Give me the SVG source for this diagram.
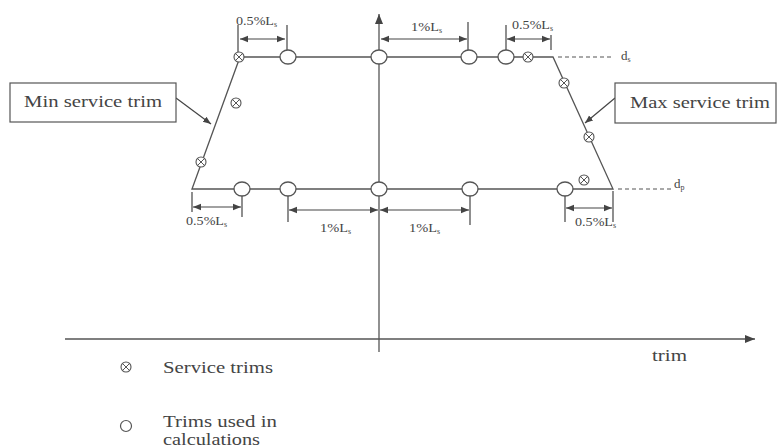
<svg xmlns="http://www.w3.org/2000/svg" width="779" height="447" viewBox="0 0 779 447">
<style>
.ln{stroke:#555;stroke-width:1.3;fill:none}
.dash{stroke:#555;stroke-width:1.2;fill:none;stroke-dasharray:4 3}
.dim{stroke:#444;stroke-width:1.2;fill:none}
.ell{fill:#fff;stroke:#555;stroke-width:1.3}
.t{font-family:"Liberation Serif",serif;fill:#444}
.s{font-size:13px}
.sub{font-size:8px}
.lbl{font-size:17px}
.lg{font-size:16px}
.box{fill:#fff;stroke:#555;stroke-width:1.2}
</style>
<defs>
<marker id="ah" viewBox="0 0 10 10" refX="10" refY="5" markerWidth="8" markerHeight="8" markerUnits="userSpaceOnUse" orient="auto-start-reverse"><path d="M0,1 L10,5 L0,9 z" fill="#444"/></marker>
<marker id="ax" viewBox="0 0 10 10" refX="10" refY="5" markerWidth="10" markerHeight="10" markerUnits="userSpaceOnUse" orient="auto"><path d="M0,1 L10,5 L0,9 z" fill="#444"/></marker>
<g id="xm"><circle r="5" fill="#fff" stroke="#555" stroke-width="1.1"/><path d="M-3.5,-3.5 L3.5,3.5 M-3.5,3.5 L3.5,-3.5" stroke="#555" stroke-width="1"/></g>
<ellipse id="oc" rx="8" ry="7" class="ell"/>
</defs>
<rect width="779" height="447" fill="#fff"/>
<g id="connectors">
<line class="ln" x1="65" y1="339" x2="755" y2="339" marker-end="url(#ax)"/>
<line class="ln" x1="379" y1="352" x2="379" y2="14" marker-end="url(#ax)"/>
<path class="ln" d="M192,189 L240,57 L553,57 L613,189 Z"/>
<line class="dash" x1="558" y1="57" x2="612" y2="57"/>
<line class="dash" x1="618" y1="189" x2="672" y2="189"/>
<line class="dim" x1="238" y1="25" x2="238" y2="57"/>
<line class="dim" x1="287" y1="25" x2="287" y2="50"/>
<line class="dim" x1="240" y1="39" x2="285" y2="39" marker-start="url(#ah)" marker-end="url(#ah)"/>
<line class="dim" x1="468" y1="22" x2="468" y2="50"/>
<line class="dim" x1="381" y1="39" x2="467" y2="39" marker-start="url(#ah)" marker-end="url(#ah)"/>
<line class="dim" x1="506" y1="25" x2="506" y2="50"/>
<line class="dim" x1="551" y1="35" x2="551" y2="50"/>
<line class="dim" x1="507" y1="39" x2="550" y2="39" marker-start="url(#ah)" marker-end="url(#ah)"/>
<line class="dim" x1="192" y1="192" x2="192" y2="212"/>
<line class="dim" x1="242" y1="195" x2="242" y2="217"/>
<line class="dim" x1="193" y1="207" x2="241" y2="207" marker-start="url(#ah)" marker-end="url(#ah)"/>
<line class="dim" x1="288" y1="195" x2="288" y2="222"/>
<line class="dim" x1="289" y1="210" x2="378" y2="210" marker-start="url(#ah)" marker-end="url(#ah)"/>
<line class="dim" x1="470" y1="195" x2="470" y2="225"/>
<line class="dim" x1="380" y1="210" x2="469" y2="210" marker-start="url(#ah)" marker-end="url(#ah)"/>
<line class="dim" x1="565" y1="195" x2="565" y2="222"/>
<line class="dim" x1="613" y1="191" x2="613" y2="222"/>
<line class="dim" x1="566" y1="208" x2="612" y2="208" marker-start="url(#ah)" marker-end="url(#ah)"/>
<line class="dim" x1="176" y1="98" x2="211" y2="124" marker-end="url(#ah)"/>
<line class="dim" x1="615" y1="98" x2="585" y2="123" marker-end="url(#ah)"/>
</g>
<g id="top-trims">
<use href="#xm" x="239" y="57"/>
<use href="#oc" x="288" y="57"/>
<use href="#oc" x="379" y="57"/>
<use href="#oc" x="469" y="57"/>
<use href="#oc" x="506" y="57"/>
<use href="#xm" x="528" y="57"/>
</g>
<g id="bottom-trims">
<use href="#oc" x="242" y="189"/>
<use href="#oc" x="288" y="189"/>
<use href="#oc" x="379" y="189"/>
<use href="#oc" x="470" y="189"/>
<use href="#oc" x="565" y="189"/>
<use href="#xm" x="584" y="180"/>
</g>
<g id="side-trims">
<use href="#xm" x="201" y="162"/>
<use href="#xm" x="236" y="103"/>
<use href="#xm" x="564" y="83"/>
<use href="#xm" x="589" y="137"/>
</g>
<g id="dim-labels">
<text class="t s" x="236" y="25"><tspan textLength="38" lengthAdjust="spacingAndGlyphs">0.5%L</tspan><tspan class="sub" dy="2">s</tspan></text>
<text class="t s" x="411" y="31"><tspan textLength="28" lengthAdjust="spacingAndGlyphs">1%L</tspan><tspan class="sub" dy="2">s</tspan></text>
<text class="t s" x="512" y="29"><tspan textLength="38" lengthAdjust="spacingAndGlyphs">0.5%L</tspan><tspan class="sub" dy="2">s</tspan></text>
<text class="t s" x="186" y="225"><tspan textLength="38" lengthAdjust="spacingAndGlyphs">0.5%L</tspan><tspan class="sub" dy="2">s</tspan></text>
<text class="t s" x="320" y="232"><tspan textLength="28" lengthAdjust="spacingAndGlyphs">1%L</tspan><tspan class="sub" dy="2">s</tspan></text>
<text class="t s" x="409" y="232"><tspan textLength="28" lengthAdjust="spacingAndGlyphs">1%L</tspan><tspan class="sub" dy="2">s</tspan></text>
<text class="t s" x="575" y="226"><tspan textLength="38" lengthAdjust="spacingAndGlyphs">0.5%L</tspan><tspan class="sub" dy="2">s</tspan></text>
<text class="t s" x="621" y="60">d<tspan class="sub" dy="2">s</tspan></text>
<text class="t s" x="674" y="188">d<tspan class="sub" dy="2">p</tspan></text>
</g>
<g id="min-label">
<rect class="box" x="10" y="83" width="166" height="39"/>
<text class="t lbl" x="24" y="107" textLength="138" lengthAdjust="spacingAndGlyphs">Min service trim</text>
</g>
<g id="max-label">
<rect class="box" x="615" y="83" width="161" height="40"/>
<text class="t lbl" x="630" y="108" textLength="140" lengthAdjust="spacingAndGlyphs">Max service trim</text>
</g>
<text class="t lbl" x="652" y="361" textLength="35" lengthAdjust="spacingAndGlyphs">trim</text>
<g id="legend">
<use href="#xm" x="126" y="367"/>
<text class="t lg" x="163" y="373" textLength="110" lengthAdjust="spacingAndGlyphs">Service trims</text>
<circle cx="126" cy="426" r="5.5" fill="#fff" stroke="#555" stroke-width="1.2"/>
<text class="t lg" x="163" y="427" textLength="114" lengthAdjust="spacingAndGlyphs">Trims used in</text>
<text class="t lg" x="163" y="445" textLength="97" lengthAdjust="spacingAndGlyphs">calculations</text>
</g>
</svg>
